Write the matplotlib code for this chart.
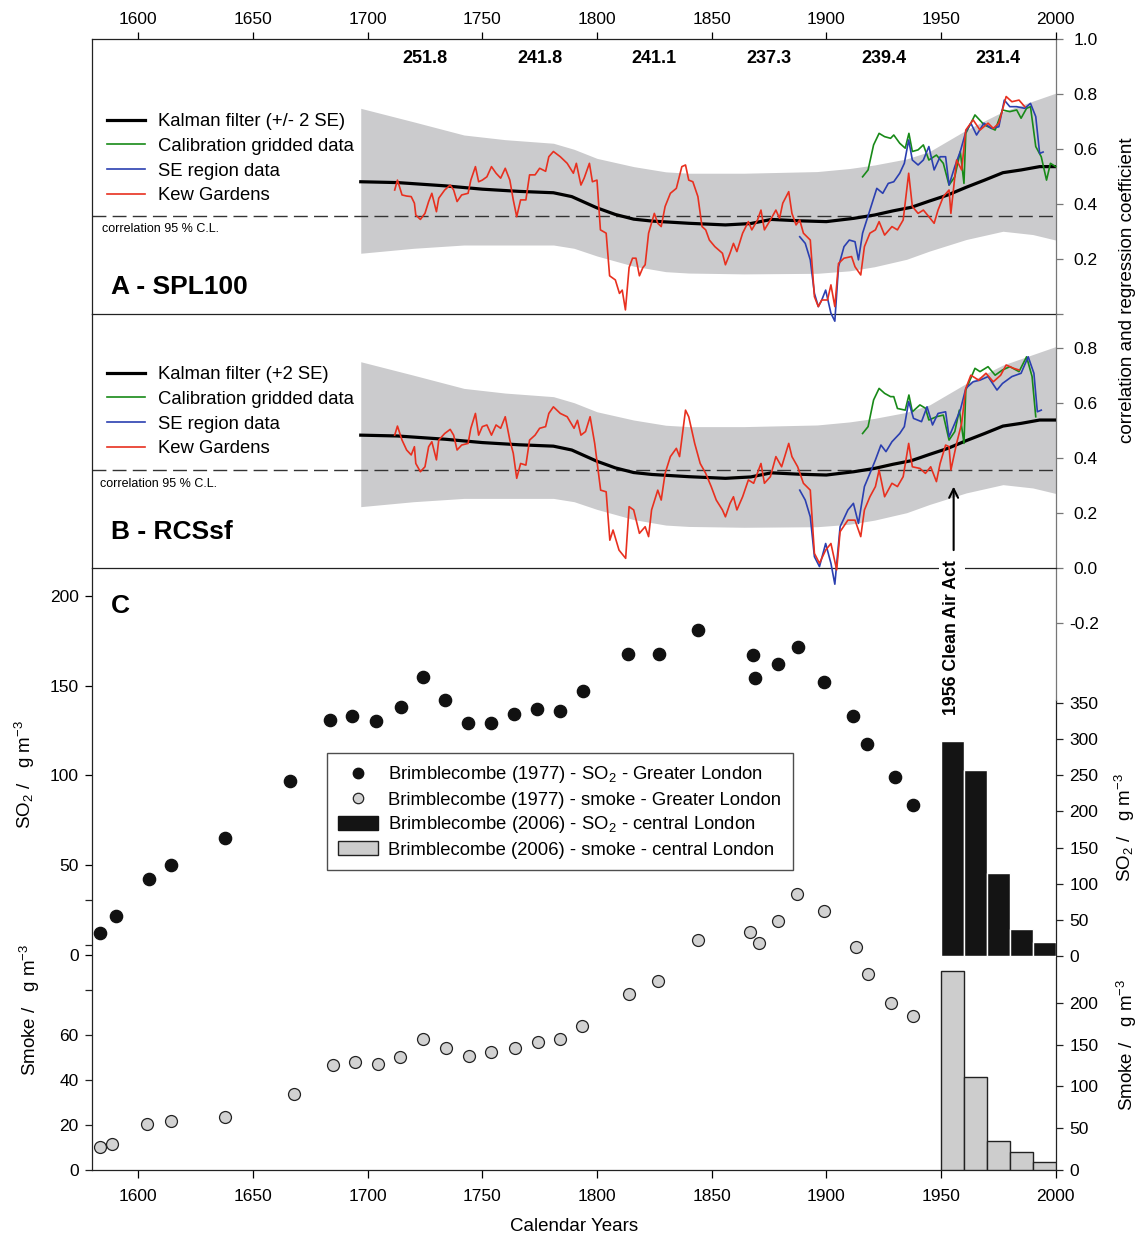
import numpy as np
import matplotlib
matplotlib.use('Agg')
import matplotlib.pyplot as plt
from matplotlib.lines import Line2D
from matplotlib.patches import Patch

plt.rcParams['font.family'] = ['Liberation Sans', 'DejaVu Sans']
plt.rcParams['mathtext.fontset'] = 'custom'
plt.rcParams['mathtext.rm'] = 'Liberation Sans'
plt.rcParams['mathtext.it'] = 'Liberation Sans:italic'
plt.rcParams['mathtext.bf'] = 'Liberation Sans:bold'

# ---------------- data ----------------
kalman_years = [1697, 1713, 1734, 1750, 1766, 1781, 1789, 1800, 1808, 1816, 1824, 1840, 1856, 1867,
                1876, 1888, 1900, 1912, 1921, 1929, 1937, 1945, 1953, 1961, 1969, 1977, 1985, 1993, 2000]
kalman_vals = [0.482, 0.479, 0.467, 0.455, 0.447, 0.442, 0.428, 0.387, 0.363, 0.346, 0.339, 0.331, 0.325, 0.330,
               0.345, 0.340, 0.337, 0.349, 0.361, 0.376, 0.389, 0.412, 0.434, 0.462, 0.488, 0.515, 0.525, 0.537, 0.537]

band_years = [1697, 1720, 1742, 1760, 1781, 1790, 1800, 1816, 1830, 1840, 1864, 1896, 1910, 1921, 1935,
              1945, 1961, 1977, 1990, 2000]
band_upper = [0.749, 0.700, 0.652, 0.635, 0.622, 0.600, 0.567, 0.537, 0.518, 0.513, 0.513, 0.519, 0.530, 0.543,
              0.565, 0.592, 0.670, 0.737, 0.775, 0.804]
band_lower = [0.222, 0.240, 0.252, 0.252, 0.252, 0.240, 0.212, 0.175, 0.155, 0.150, 0.147, 0.149, 0.158, 0.173,
              0.200, 0.230, 0.272, 0.302, 0.290, 0.270]

cl95_a = 0.357
cl95_b = 0.355

kew_a_years = [1711.8, 1713, 1715, 1717, 1719, 1720.4, 1721, 1723, 1725, 1726.6, 1728, 1730, 1731, 1733.6, 1736,
               1737.5, 1739, 1741, 1743.8, 1745, 1747, 1748.4, 1750, 1752, 1754, 1756, 1758, 1760, 1762, 1763.5,
               1765, 1766.7, 1769, 1770.6, 1773, 1775, 1777.6, 1779, 1781, 1784, 1787, 1789.7, 1791, 1793, 1794.4,
               1796.7, 1798, 1800, 1801.5, 1804, 1805.5, 1808, 1809.8, 1811, 1812.4, 1814, 1815.5, 1817, 1818.5,
               1820, 1821, 1822.5, 1825, 1826.5, 1828, 1829.7, 1832, 1834.6, 1837, 1838.6, 1840, 1841.8, 1844,
               1845.8, 1847.4, 1849, 1851.4, 1854.7, 1856, 1858, 1859.5, 1861, 1863.5, 1866, 1867.5, 1870, 1871.5,
               1873, 1875.6, 1878, 1879.6, 1881, 1883.6, 1885, 1886.8, 1888.4, 1890, 1893, 1894.8, 1896.5, 1898,
               1900.5, 1902, 1903.7, 1905.3, 1907.7, 1911, 1912.5, 1915, 1916.6, 1919, 1921.4, 1923, 1925.4, 1928.6,
               1931, 1933.5, 1935.9, 1937.5, 1940, 1942.3, 1944.7, 1947, 1948.7, 1951, 1953.5, 1954.3, 1956.8, 1959,
               1960.8, 1964, 1967, 1970.5, 1972.8, 1975.2, 1978.4, 1980.9, 1984, 1986.5]
kew_a_vals = [0.452, 0.488, 0.434, 0.430, 0.428, 0.404, 0.361, 0.345, 0.367, 0.410, 0.440, 0.373, 0.422, 0.452, 0.470,
              0.452, 0.410, 0.434, 0.440, 0.488, 0.537, 0.482, 0.488, 0.500, 0.537, 0.513, 0.495, 0.531, 0.488, 0.416,
              0.355, 0.416, 0.416, 0.507, 0.507, 0.531, 0.520, 0.573, 0.592, 0.573, 0.549, 0.513, 0.549, 0.470, 0.495,
              0.549, 0.482, 0.488, 0.307, 0.295, 0.140, 0.125, 0.076, 0.088, 0.016, 0.170, 0.204, 0.204, 0.140,
              0.170, 0.180, 0.295, 0.367, 0.331, 0.319, 0.392, 0.440, 0.458, 0.537, 0.543, 0.488, 0.482, 0.428,
              0.319, 0.307, 0.270, 0.246, 0.222, 0.180, 0.222, 0.258, 0.228, 0.295, 0.337, 0.307, 0.343, 0.379,
              0.307, 0.343, 0.379, 0.349, 0.404, 0.446, 0.367, 0.325, 0.343, 0.295, 0.270, 0.064, 0.028, 0.052,
              0.052, 0.107, 0.028, 0.185, 0.204, 0.210, 0.173, 0.143, 0.246, 0.295, 0.307, 0.337, 0.288, 0.319,
              0.307, 0.343, 0.513, 0.392, 0.367, 0.379, 0.355, 0.331, 0.379, 0.428, 0.452, 0.367, 0.561, 0.525,
              0.670, 0.707, 0.670, 0.695, 0.676, 0.695, 0.792, 0.773, 0.779, 0.755]

se_a_years = [1888.4, 1890.8, 1893, 1894.8, 1896.5, 1898, 1899.7, 1902, 1903.7, 1905.3, 1907.7, 1910, 1912.5, 1914,
              1915.8, 1919, 1922, 1924.6, 1927, 1929.4, 1932, 1934, 1935.9, 1937.5, 1940, 1942.3, 1944.7, 1947,
              1949.6, 1952, 1953.5, 1956, 1958.4, 1960.8, 1963, 1965.5, 1968.7, 1972, 1975.2, 1977.6, 1980, 1983,
              1986.5, 1989, 1991.3, 1993, 1994.5]
se_a_vals = [0.282, 0.258, 0.198, 0.076, 0.028, 0.052, 0.088, 0.004, -0.025, 0.173, 0.246, 0.270, 0.264, 0.198,
             0.295, 0.379, 0.458, 0.440, 0.476, 0.482, 0.513, 0.549, 0.634, 0.561, 0.543, 0.561, 0.610, 0.525,
             0.573, 0.573, 0.470, 0.537, 0.592, 0.664, 0.695, 0.652, 0.695, 0.676, 0.682, 0.779, 0.755, 0.755,
             0.749, 0.767, 0.719, 0.585, 0.590]

grid_a_years = [1915.8, 1918.2, 1920.6, 1923, 1925.4, 1928, 1929.4, 1932, 1934.4, 1936, 1937.5, 1940, 1942.3,
                1944.7, 1948, 1951, 1953.5, 1956, 1958.4, 1960, 1960.8, 1964.8, 1968.8, 1973.6, 1976.8, 1980,
                1983, 1984.9, 1987.3, 1989, 1991.3, 1993.7, 1996, 1997.7, 2000]
grid_a_vals = [0.500, 0.525, 0.616, 0.658, 0.646, 0.640, 0.652, 0.622, 0.604, 0.658, 0.592, 0.598, 0.616,
               0.561, 0.579, 0.549, 0.470, 0.500, 0.592, 0.476, 0.658, 0.725, 0.689, 0.670, 0.743, 0.737,
               0.743, 0.713, 0.749, 0.755, 0.610, 0.573, 0.488, 0.549, 0.537]

kew_b_years = [1711.8, 1713, 1715, 1717, 1719, 1720.4, 1721, 1723, 1725, 1726.6, 1728, 1730, 1731, 1733.6, 1736,
               1737.5, 1739, 1741, 1743.8, 1745, 1747, 1748.4, 1750, 1752, 1754, 1756, 1758, 1760, 1762, 1763.5,
               1765, 1766.7, 1769, 1770.6, 1773, 1775, 1777.6, 1779, 1781, 1784, 1787, 1790, 1791.5, 1793, 1795,
               1797, 1799, 1801.6, 1804, 1805.6, 1807, 1809.6, 1812.5, 1814, 1816, 1818.5, 1821, 1822.5, 1823.8,
               1826.5, 1828, 1829.7, 1832, 1834.6, 1836, 1838.6, 1840, 1842.6, 1845, 1847.4, 1849.8, 1852, 1854.7,
               1856, 1858, 1859.5, 1861, 1863.5, 1866, 1868.3, 1871.5, 1873, 1875.6, 1878, 1880.5, 1883.6, 1885,
               1887.5, 1890, 1893, 1894.8, 1897, 1899.7, 1902, 1904.5, 1906, 1909.4, 1912.5, 1915, 1916.6, 1919,
               1921.4, 1923, 1925.4, 1928.6, 1931, 1933.5, 1935.9, 1937.5, 1940.8, 1943.2, 1945.5, 1948, 1949.6,
               1952, 1953.5, 1954.3, 1956.8, 1959, 1960.8, 1963, 1966.4, 1969.6, 1972.8, 1976, 1978.4, 1981.7, 1984]
kew_b_vals = [0.482, 0.515, 0.464, 0.428, 0.410, 0.440, 0.379, 0.349, 0.367, 0.440, 0.458, 0.392, 0.464, 0.488, 0.503,
              0.482, 0.428, 0.446, 0.452, 0.507, 0.561, 0.482, 0.513, 0.519, 0.482, 0.519, 0.507, 0.549, 0.464, 0.416,
              0.325, 0.379, 0.373, 0.464, 0.482, 0.507, 0.513, 0.561, 0.585, 0.561, 0.549, 0.507, 0.536, 0.482, 0.495,
              0.549, 0.452, 0.282, 0.276, 0.100, 0.137, 0.064, 0.034, 0.222, 0.210, 0.125, 0.149, 0.113, 0.210,
              0.282, 0.246, 0.343, 0.404, 0.434, 0.404, 0.573, 0.549, 0.452, 0.379, 0.343, 0.295, 0.246, 0.210,
              0.185, 0.234, 0.258, 0.210, 0.258, 0.319, 0.307, 0.379, 0.307, 0.331, 0.404, 0.367, 0.452, 0.404,
              0.367, 0.307, 0.282, 0.052, 0.016, 0.064, 0.088, -0.008, 0.131, 0.173, 0.173, 0.113, 0.210, 0.258,
              0.295, 0.355, 0.258, 0.307, 0.295, 0.331, 0.452, 0.367, 0.361, 0.343, 0.367, 0.313, 0.379,
              0.446, 0.440, 0.355, 0.452, 0.525, 0.652, 0.700, 0.682, 0.707, 0.676, 0.700, 0.737, 0.725, 0.719]

se_b_years = [1888.4, 1890.8, 1893, 1894.8, 1897, 1899.7, 1902, 1903.7, 1906, 1909.4, 1911.8, 1914, 1916.6, 1919,
              1921.4, 1923.8, 1926, 1928.6, 1932, 1934, 1935.9, 1938, 1941.5, 1943.9, 1946.3, 1948.7, 1952, 1953.5,
              1956, 1958.4, 1960.8, 1964, 1967, 1970.5, 1974.4, 1976.8, 1980.9, 1984.9, 1988, 1990.5, 1992, 1993.7]
se_b_vals = [0.282, 0.246, 0.185, 0.040, 0.004, 0.088, 0.016, -0.060, 0.149, 0.210, 0.234, 0.161, 0.295, 0.343,
             0.392, 0.446, 0.422, 0.458, 0.488, 0.513, 0.604, 0.543, 0.531, 0.585, 0.519, 0.561, 0.567, 0.476,
             0.525, 0.573, 0.652, 0.676, 0.682, 0.695, 0.646, 0.670, 0.695, 0.707, 0.767, 0.707, 0.567, 0.573]

grid_b_years = [1915.8, 1918.2, 1920.6, 1923, 1925.4, 1928, 1929.4, 1931, 1934.4, 1936, 1937.5, 1940.8, 1943.2,
                1944.7, 1948, 1951, 1953.5, 1956, 1958, 1960, 1960.8, 1964.8, 1967, 1970.5, 1973.6, 1976.8, 1980,
                1984, 1987.3, 1989.7, 1991.3]
grid_b_vals = [0.488, 0.513, 0.610, 0.652, 0.634, 0.622, 0.622, 0.579, 0.573, 0.628, 0.567, 0.592, 0.580,
               0.537, 0.549, 0.555, 0.464, 0.495, 0.573, 0.452, 0.646, 0.725, 0.713, 0.731, 0.700, 0.719, 0.731,
               0.713, 0.767, 0.695, 0.549]

so2_1977_years = [1583.4, 1590.4, 1604.8, 1614.4, 1638, 1666, 1683.4, 1693.4, 1703.5, 1714.4, 1724, 1733.6, 1743.7,
                  1754, 1763.8, 1773.8, 1783.8, 1793.9, 1813.5, 1827, 1844, 1868, 1869, 1879, 1887.8, 1899.1,
                  1911.8, 1917.9, 1930, 1938]
so2_1977_vals = [12.2, 21.7, 42.2, 50, 65, 96.7, 131, 133, 130.5, 138, 155, 141.7, 129.4, 129, 134.4, 137.2, 135.6,
                 146.7, 167.8, 167.8, 181, 167.2, 154.4, 162, 171.7, 151.7, 132.8, 117.2, 98.9, 83.3]

smoke_1977_years = [1583.4, 1588.6, 1603.9, 1614.4, 1638, 1667.7, 1684.7, 1694.3, 1704.4, 1714, 1724, 1734, 1744,
                    1754, 1764.2, 1774.2, 1783.8, 1793.4, 1814, 1826.6, 1844, 1866.8, 1870.7, 1879, 1887.3, 1899,
                    1913, 1918.3, 1928.4, 1938]
smoke_1977_vals = [10.2, 11.6, 20.4, 21.8, 23.6, 33.8, 46.7, 48, 47.1, 50.2, 58.2, 54.2, 50.7, 52.4, 54.2, 56.9,
                   58.2, 64, 78.2, 84, 102.2, 105.8, 100.9, 110.7, 122.7, 115.1, 99.1, 87.1, 74.2, 68.4]

decade_starts = [1950, 1960, 1970, 1980, 1990]
so2_2006 = [298, 257, 115, 37, 20]
smoke_2006 = [238, 111, 35, 21, 10]

period_centres = [1725, 1775, 1825, 1875, 1925, 1975]
period_labels = ['251.8', '241.8', '241.1', '237.3', '239.4', '231.4']

year_ticks = [1600, 1650, 1700, 1750, 1800, 1850, 1900, 1950, 2000]

# ---------------- layout ----------------
W, H = 1138, 1234
fig = plt.figure(figsize=(W / 100, H / 100), dpi=100)


def rect(x0, y0, x1, y1):
    return [x0 / W, 1 - y1 / H, (x1 - x0) / W, (y1 - y0) / H]


XL, XR = 92.4, 1055.7
YA0, YA1 = 39.3, 314.3
YB1 = 567.7
YC1 = 1170.0
FS = 12.5
LFS = 13.3
RED, BLUE, GREEN, BAND = '#e8301f', '#2b3fb0', '#188a18', '#cbcbcd'
SPC = '#222222'
GRAYSP = '#777777'


def style_spines(ax, left=True, right=True, top=True, bottom=True):
    for k, v in dict(left=left, right=right, top=top, bottom=bottom).items():
        ax.spines[k].set_visible(v)
        ax.spines[k].set_linewidth(0.9)
        ax.spines[k].set_color(SPC)


def corr_panel(ax, kew_y, kew_v, se_y, se_v, grid_y, grid_v, cl, top_axis):
    ax.set_xlim(1580, 2000)
    ax.fill_between(band_years, band_lower, band_upper, color=BAND, lw=0, zorder=1)
    ax.axhline(cl, color='#333333', lw=1.0, dashes=(10, 4.5), zorder=2)
    ax.plot(kalman_years, kalman_vals, color='black', lw=2.3, zorder=3, solid_joinstyle='round')
    ax.plot(grid_y, grid_v, color=GREEN, lw=1.2, zorder=4, clip_on=False)
    ax.plot(se_y, se_v, color=BLUE, lw=1.2, zorder=5, clip_on=False)
    ax.plot(kew_y, kew_v, color=RED, lw=1.2, zorder=6, clip_on=False)
    style_spines(ax)
    ax.spines['right'].set_color(GRAYSP)
    ax.yaxis.tick_right()
    ax.tick_params(axis='y', which='both', direction='out', length=5, width=0.9, labelsize=FS, pad=8,
                   color=GRAYSP)
    if top_axis:
        ax.xaxis.tick_top()
        ax.set_xticks(year_ticks)
        ax.tick_params(axis='x', direction='out', length=5, width=0.9, labelsize=FS, pad=4)
    else:
        ax.set_xticks([])
    ax.patch.set_alpha(0)


axA = fig.add_axes(rect(XL, YA0, XR, YA1))
corr_panel(axA, kew_a_years, kew_a_vals, se_a_years, se_a_vals, grid_a_years, grid_a_vals, cl95_a, True)
axA.set_ylim(0, 1.0)
axA.set_yticks([0.2, 0.4, 0.6, 0.8, 1.0])
axA.set_yticklabels(['0.2', '0.4', '0.6', '0.8', '1.0'])
axA.set_yticks([0.0], minor=True)
for c, lab in zip(period_centres, period_labels):
    axA.text(c, 0.93, lab, ha='center', va='center', fontsize=13, fontweight='bold')
axA.text(0.0193, 0.099, 'A - SPL100', transform=axA.transAxes, ha='left', va='center', fontsize=19,
         fontweight='bold')
axA.text(0.0100, 0.310, 'correlation 95 % C.L.', transform=axA.transAxes, ha='left', va='center', fontsize=9)

axB = fig.add_axes(rect(XL, YA1, XR, YB1))
corr_panel(axB, kew_b_years, kew_b_vals, se_b_years, se_b_vals, grid_b_years, grid_b_vals, cl95_b, False)
axB.set_ylim(0, (YB1 - YA1) / 275.0)
axB.set_yticks([0.0, 0.2, 0.4, 0.6, 0.8])
axB.set_yticklabels(['0.0', '0.2', '0.4', '0.6', '0.8'])
axB.spines['top'].set_visible(False)
axB.set_zorder(2)
axB.text((111 - XL) / (XR - XL), (YB1 - 532) / (YB1 - YA1), 'B - RCSsf', transform=axB.transAxes, ha='left',
         va='center', fontsize=19, fontweight='bold')
axB.text((100 - XL) / (XR - XL), (YB1 - 484) / (YB1 - YA1), 'correlation 95 % C.L.', transform=axB.transAxes,
         ha='left', va='center', fontsize=9)
axB.annotate('', xy=(1955.5, 0.295), xytext=(1955.5, 0.064),
             arrowprops=dict(arrowstyle='->', color='black', lw=1.5, shrinkA=0, shrinkB=0, mutation_scale=16))

legA_handles = [Line2D([], [], color='black', lw=2.3), Line2D([], [], color=GREEN, lw=1.2),
                Line2D([], [], color=BLUE, lw=1.2), Line2D([], [], color=RED, lw=1.2)]
leg_kw = dict(loc='upper left', bbox_transform=fig.transFigure, frameon=False, fontsize=LFS, borderpad=0,
              borderaxespad=0, handlelength=2.05, handletextpad=0.7, labelspacing=0.42)
legA = axA.legend(legA_handles, ['Kalman filter (+/- 2 SE)', 'Calibration gridded data', 'SE region data',
                                 'Kew Gardens'], bbox_to_anchor=(107 / W, 1 - 113 / H), **leg_kw)
legB = axB.legend(legA_handles, ['Kalman filter (+2 SE)', 'Calibration gridded data', 'SE region data',
                                 'Kew Gardens'], bbox_to_anchor=(107 / W, 1 - 366 / H), **leg_kw)

# ---------------- panel C ----------------
crect = rect(XL, YB1, XR, YC1)
so2_px = 1.7965
axC = fig.add_axes(crect)
axC.patch.set_alpha(0)
axC.set_xlim(1580, 2000)
axC.set_ylim((955 - YC1) / so2_px, (955 - YB1) / so2_px)
style_spines(axC, top=False)
axC.spines['right'].set_bounds((955 - YC1) / so2_px, (955 - 700) / so2_px)
axC.set_yticks([0, 50, 100, 150, 200])
axC.tick_params(axis='y', direction='out', length=5, width=0.9, labelsize=FS, pad=5, right=False)
axC.set_xticks(year_ticks)
axC.tick_params(axis='x', direction='out', length=6, width=0.9, labelsize=FS, pad=8)
axC.plot(so2_1977_years, so2_1977_vals, 'o', ms=8.8, color='#111111', mec='#111111', zorder=5)
axC.set_xlabel('Calendar Years', fontsize=13.5, labelpad=10)

axSm = fig.add_axes(crect, label='smoke')
axSm.set_xlim(1580, 2000)
axSm.set_ylim(0, (YC1 - YB1) / 2.25)
axSm.patch.set_alpha(0)
for s in axSm.spines.values():
    s.set_visible(False)
axSm.set_xticks([])
axSm.set_yticks([0, 20, 40, 60, 80, 100, 120])
axSm.set_yticklabels(['0', '20', '40', '60', '', '', ''])
axSm.tick_params(axis='y', direction='out', length=5, width=0.9, labelsize=FS, pad=5, color=SPC)
axSm.plot(smoke_1977_years, smoke_1977_vals, 'o', ms=8.6, mfc='#d2d2d2', mec='#222222', mew=0.9, zorder=5)

axSo2R = fig.add_axes(crect, label='so2bars')
axSo2R.set_xlim(1580, 2000)
axSo2R.set_ylim((956 - YC1) / 0.723, (956 - YB1) / 0.723)
axSo2R.patch.set_alpha(0)
for s in axSo2R.spines.values():
    s.set_visible(False)
axSo2R.set_xticks([])
axSo2R.yaxis.tick_right()
axSo2R.set_yticks([0, 50, 100, 150, 200, 250, 300, 350])
axSo2R.tick_params(axis='y', direction='out', length=5, width=0.9, labelsize=FS, pad=5, color=SPC)
axSo2R.bar(decade_starts, so2_2006, width=10, align='edge', color='#141414', edgecolor='white', lw=1.0,
           zorder=3)

axSmR = fig.add_axes(crect, label='smokebars')
axSmR.set_xlim(1580, 2000)
axSmR.set_ylim(0, (1171.5 - YB1) / 0.8375)
axSmR.patch.set_alpha(0)
for s in axSmR.spines.values():
    s.set_visible(False)
axSmR.set_xticks([])
axSmR.yaxis.tick_right()
axSmR.set_yticks([0, 50, 100, 150, 200])
axSmR.tick_params(axis='y', direction='out', length=5, width=0.9, labelsize=FS, pad=5, color=SPC)
axSmR.bar(decade_starts, smoke_2006, width=10, align='edge', color='#cdcdcd', edgecolor='#222222', lw=1.0,
          zorder=3)

axCorr = fig.add_axes(crect, label='corrext')
axCorr.set_xlim(1580, 2000)
axCorr.set_ylim(-(YC1 - YB1) / 275.0, 0)
axCorr.patch.set_alpha(0)
for k, s in axCorr.spines.items():
    s.set_visible(k == 'right')
axCorr.spines['right'].set_color(GRAYSP)
axCorr.spines['right'].set_linewidth(0.9)
axCorr.spines['right'].set_bounds(-(700 - YB1) / 275.0, 0)
axCorr.set_xticks([])
axCorr.yaxis.tick_right()
axCorr.set_yticks([-0.2])
axCorr.set_yticklabels(['-0.2'])
axCorr.tick_params(axis='y', direction='out', length=5, width=0.9, labelsize=FS, pad=5, color=GRAYSP)

legC_handles = [Line2D([], [], ls='none', marker='o', ms=7.5, color='#111111'),
                Line2D([], [], ls='none', marker='o', ms=7.5, mfc='#d2d2d2', mec='#222222', mew=0.9),
                Patch(facecolor='#141414', edgecolor='#141414'),
                Patch(facecolor='#cdcdcd', edgecolor='#222222', lw=1.0)]
legC = axCorr.legend(legC_handles, ['Brimblecombe (1977) - SO$_2$ - Greater London',
                                    'Brimblecombe (1977) - smoke - Greater London',
                                    'Brimblecombe (2006) - SO$_2$ - central London',
                                    'Brimblecombe (2006) - smoke - central London'],
                     loc='upper left', bbox_to_anchor=(327 / W, 1 - 753 / H), bbox_transform=fig.transFigure,
                     frameon=True, fancybox=False, fontsize=LFS, borderpad=0.62, borderaxespad=0,
                     handlelength=2.15, handleheight=0.75, handletextpad=0.55, labelspacing=0.32)
legC.get_frame().set_edgecolor('#222222')
legC.get_frame().set_linewidth(1.0)

# ---------------- free texts ----------------
fig.text(111 / W, 1 - 606 / H, 'C', fontsize=19, fontweight='bold', ha='left', va='center')
fig.text(952 / W, 1 - 638 / H, '1956 Clean Air Act', rotation=90, ha='center', va='center', fontsize=12.8,
         fontweight='bold', bbox=dict(fc='white', ec='none', pad=3))
fig.text(1127 / W, 1 - 290 / H, 'correlation and regression coefficient', rotation=90, ha='center',
         va='center', fontsize=13.5)
fig.text(1125 / W, 1 - 828 / H, 'SO$_2$ /   g m$^{-3}$', rotation=90, ha='center', va='center', fontsize=13.5)
fig.text(1127 / W, 1 - 1045 / H, 'Smoke /   g m$^{-3}$', rotation=90, ha='center', va='center', fontsize=13.5)
fig.text(25 / W, 1 - 775 / H, 'SO$_2$ /   g m$^{-3}$', rotation=90, ha='center', va='center', fontsize=13.5)
fig.text(30 / W, 1 - 1010 / H, 'Smoke /   g m$^{-3}$', rotation=90, ha='center', va='center', fontsize=13.5)

fig.savefig('out.png', dpi=100)
